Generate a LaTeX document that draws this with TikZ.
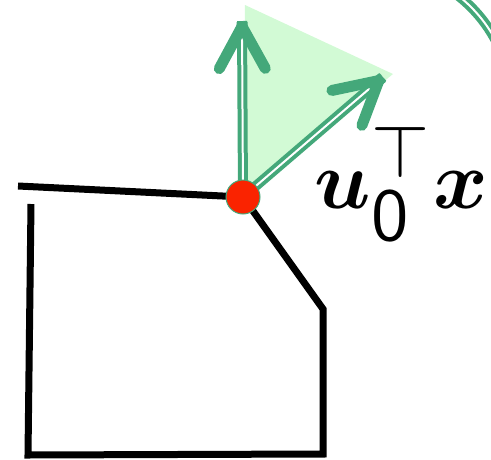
\documentclass[tikz,border=0pt]{standalone}
\usepackage{bm}
\usetikzlibrary{arrows.meta,calc}
\definecolor{vecgreen}{RGB}{68,168,122}
\definecolor{conefill}{RGB}{210,250,213}
\definecolor{vertexred}{RGB}{250,35,0}
\tikzset{
  edge/.style={line width=7pt, line join=miter},
  shaft/.style={draw=vecgreen, double=white, double distance=2pt, line width=4pt},
  head/.style={draw=vecgreen, line width=11pt,
    -{Straight Barb[round, length=42pt, width=46pt]}},
  vertex/.style={circle, fill=vertexred, draw=vecgreen, line width=1pt,
    minimum size=34pt, inner sep=0pt},
}
\begin{document}
\begin{tikzpicture}[x=1pt, y=-1pt]
  \useasboundingbox (0,0) rectangle (491,459);
  % feasible cone at the vertex
  \coordinate (v) at (243,197);
  \coordinate (c1) at (245,5);
  \coordinate (c2) at (393,74);
  \fill[conefill] (v) -- (c1) -- (c2) -- cycle;
  % polytope boundary
  \coordinate (a) at (18,186);
  \coordinate (b) at (31,204);
  \coordinate (c) at (28,455);
  \coordinate (d) at (323,454);
  \coordinate (e) at (323,309);
  \draw[edge] (a) -- (v);
  \draw[edge] (b) -- (c) -- (d) -- (e) -- (v);
  % level curve in the corner
  \coordinate (arcc) at (372,106);
  \begin{scope}
    \clip (400,0) rectangle (491,90);
    \draw[shaft] (arcc) circle[radius=140];
  \end{scope}
  % direction vectors
  \coordinate (t1) at (242,21);
  \coordinate (t2) at (383,77);
  \draw[shaft] (v) -- (t1);
  \draw[shaft] (v) -- (t2);
  \draw[head] ($(t1)!1pt!(v)$) -- (t1);
  \draw[head] ($(t2)!1pt!(v)$) -- (t2);
  % vertex and label
  \node[vertex] (vtx) at (v) {};
  \node[anchor=base west, inner sep=0pt, scale=8.3]
    (lbl) at (313,208)
    {$\bm{u}^{\scalebox{0.9}{$\top$}}_{\scalebox{0.9}{$\mathsf{0}$}}\bm{x}$};
\end{tikzpicture}
\end{document}
